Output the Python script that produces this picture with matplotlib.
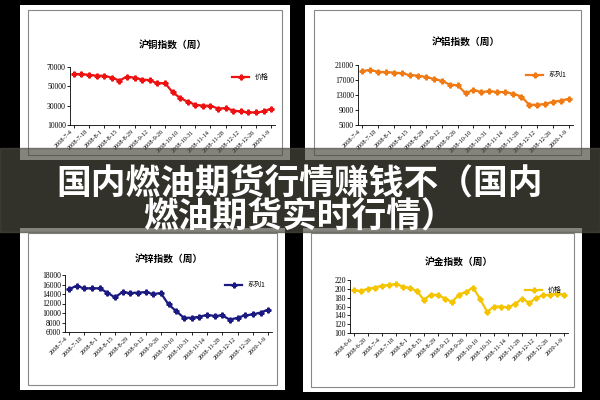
import matplotlib.pyplot as plt
from matplotlib.patches import Rectangle

plt.rcParams['font.family'] = ['Noto Sans CJK SC', 'DejaVu Sans']

week_labels = ['2008-7-4', '2008-7-18', '2008-8-1', '2008-8-15', '2008-8-29', '2008-9-12', '2008-9-26',
               '2008-10-10', '2008-10-31', '2008-11-14', '2008-11-28', '2008-12-12', '2008-12-26', '2009-1-9']
gold_labels = ['2008-6-6', '2008-6-20', '2008-7-4', '2008-7-18', '2008-8-1', '2008-8-15', '2008-8-29',
               '2008-9-12', '2008-9-26', '2008-10-10', '2008-10-31', '2008-11-14', '2008-11-28', '2008-12-12',
               '2008-12-26', '2009-1-9']

copper = [63000, 62500, 62000, 61000, 61000, 59000, 56000, 60000, 59000, 57000, 56500, 53000, 53500, 44000,
          38000, 34000, 31000, 30000, 30000, 27000, 27500, 25000, 24000, 23000, 23000, 24000, 27000]
alum = [19400, 19700, 19200, 19100, 19000, 18800, 18300, 18200, 17800, 17300, 16800, 15800, 15600, 13500,
        14300, 13800, 14000, 13800, 13800, 13300, 12600, 10400, 10400, 10600, 11200, 11500, 12000]
zinc = [15000, 15700, 15200, 15200, 15200, 14300, 13300, 14400, 14200, 14300, 14400, 14000, 14200, 11800,
        10400, 9000, 9000, 9200, 9600, 9400, 9500, 8600, 9000, 9500, 9700, 10100, 10700]
gold = [197, 195, 200, 203, 207, 209, 211, 205, 202, 195, 175, 187, 186, 178, 170, 187, 193, 203, 177, 148,
        160, 160, 158, 166, 178, 168, 180, 185, 187, 189, 187]

W, H = 600, 400
fig = plt.figure(figsize=(6, 4), dpi=100, facecolor='black')


def box(x0, y0, x1, y1):
    return [x0 / W, 1 - y1 / H, (x1 - x0) / W, (y1 - y0) / H]


def card(x0, y0, x1, y1):
    ax = fig.add_axes(box(x0, y0, x1, y1))
    ax.set_xlim(0, 1)
    ax.set_ylim(0, 1)
    ax.axis('off')
    ax.add_patch(Rectangle((0, 0), 1, 1, color='white'))
    ax.add_patch(Rectangle((0.03, 0.03), 0.94, 0.94, fill=False, ec='#888888', lw=0.8))


def chart(rect, title, title_y, vals, labels, yticks, color, legend, step):
    ax = fig.add_axes(box(*rect))
    xs = list(range(len(vals)))
    ax.plot(xs, vals, color=color, lw=1.6, marker='P', ms=3.5, label=legend)
    ax.set_ylim(yticks[0], yticks[-1])
    ax.set_yticks(yticks)
    ax.set_yticklabels([str(v) for v in yticks], fontsize=5.5, family='Liberation Serif')
    ax.set_xlim(-0.5, len(vals) - 0.5)
    ax.set_xticks(xs[::step][:len(labels)])
    ax.set_xticklabels(labels, rotation=45, ha='right', fontsize=4.5, family='Liberation Serif')
    ax.tick_params(length=2, pad=1, width=0.6)
    for s in ['top', 'right']:
        ax.spines[s].set_visible(False)
    for s in ['left', 'bottom']:
        ax.spines[s].set_linewidth(0.6)
    ax.set_facecolor('white')
    ax.legend(loc='upper right', fontsize=5, frameon=False, handlelength=2.5)
    fig.text((rect[0] + rect[2]) / 2 / W, 1 - title_y / H, title, fontsize=7, weight='bold',
             ha='center', va='center')


card(20, 5, 290, 160)
card(305, 5, 590, 160)
card(20, 228, 285, 390)
card(303, 228, 582, 392)

chart((70, 67, 275, 125), '沪铜指数（周）', 45, copper, week_labels, [10000, 30000, 50000, 70000],
      '#ee1111', '价格', 2)
chart((358, 65, 573, 125), '沪铝指数（周）', 42, alum, week_labels, [5000, 9000, 13000, 17000, 21000],
      '#f07a14', '系列1', 2)
chart((65, 275, 272, 332), '沪锌指数（周）', 259, zinc, week_labels,
      [6000, 8000, 10000, 12000, 14000, 16000, 18000], '#1a1a80', '系列1', 2)
chart((350, 280, 568, 333), '沪金指数（周）', 262, gold, gold_labels,
      [100, 120, 140, 160, 180, 200, 220], '#f5c400', '价格', 2)

# banner overlay
ov = fig.add_axes([0, 0, 1, 1])
ov.set_xlim(0, W)
ov.set_ylim(H, 0)
ov.axis('off')
ov.add_patch(Rectangle((0, 148), W, 84, color='#4a4a40', alpha=0.68))
ov.text(300, 183, '国内燃油期货行情赚钱不（国内', color='white', fontsize=25, weight='bold',
        ha='center', va='center')
ov.text(300, 216, '燃油期货实时行情）', color='white', fontsize=25, weight='bold',
        ha='center', va='center')

fig.savefig('out.png', dpi=100, facecolor='black')
